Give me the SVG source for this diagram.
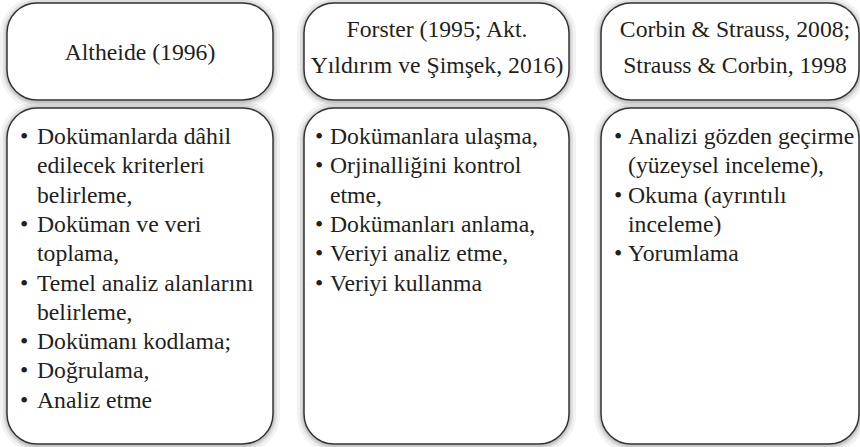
<svg xmlns="http://www.w3.org/2000/svg" width="860" height="447" viewBox="0 0 860 447">
<rect width="860" height="447" fill="#fff"/>
<g id="shadows" fill="none" stroke="#000">
<g stroke-opacity="0.05" stroke-width="14">
<rect x="7" y="4" width="266" height="97" rx="30"/><rect x="304" y="4" width="265" height="97" rx="30"/><rect x="601" y="4" width="258" height="97" rx="30"/>
<rect x="7" y="109" width="266" height="336" rx="30"/><rect x="304" y="109" width="265" height="336" rx="30"/><rect x="601" y="109" width="258" height="336" rx="30"/>
</g>
<g stroke-opacity="0.08" stroke-width="8">
<rect x="7" y="4" width="266" height="97" rx="30"/><rect x="304" y="4" width="265" height="97" rx="30"/><rect x="601" y="4" width="258" height="97" rx="30"/>
<rect x="7" y="109" width="266" height="336" rx="30"/><rect x="304" y="109" width="265" height="336" rx="30"/><rect x="601" y="109" width="258" height="336" rx="30"/>
</g>
<g stroke-opacity="0.1" stroke-width="4">
<rect x="7" y="4" width="266" height="97" rx="30"/><rect x="304" y="4" width="265" height="97" rx="30"/><rect x="601" y="4" width="258" height="97" rx="30"/>
<rect x="7" y="109" width="266" height="336" rx="30"/><rect x="304" y="109" width="265" height="336" rx="30"/><rect x="601" y="109" width="258" height="336" rx="30"/>
</g>
</g>
<g id="header1">
<rect x="7" y="3" width="266" height="97" rx="30" fill="#fff" stroke="#333" stroke-width="1.5"/>
<text font-family="'Times New Roman', 'Liberation Serif', serif" font-size="23.7" fill="#231f20" text-anchor="middle" x="140" y="60">Altheide (1996)</text>
</g>
<g id="header2">
<rect x="304" y="3" width="265" height="97" rx="30" fill="#fff" stroke="#333" stroke-width="1.5"/>
<text font-family="'Times New Roman', 'Liberation Serif', serif" font-size="23.7" fill="#231f20" text-anchor="middle" x="437" y="37">Forster (1995; Akt.</text>
<text font-family="'Times New Roman', 'Liberation Serif', serif" font-size="23.7" fill="#231f20" text-anchor="middle" x="437" y="73">Yıldırım ve Şimşek, 2016)</text>
</g>
<g id="header3">
<rect x="601" y="3" width="258" height="97" rx="30" fill="#fff" stroke="#333" stroke-width="1.5"/>
<text font-family="'Times New Roman', 'Liberation Serif', serif" font-size="23.7" fill="#231f20" text-anchor="middle" x="735" y="37">Corbin &amp; Strauss, 2008;</text>
<text font-family="'Times New Roman', 'Liberation Serif', serif" font-size="23.7" fill="#231f20" text-anchor="middle" x="735" y="73">Strauss &amp; Corbin, 1998</text>
</g>
<g id="content1">
<rect x="7" y="108" width="266" height="336" rx="30" fill="#fff" stroke="#333" stroke-width="1.5"/>
<text font-family="'Times New Roman', 'Liberation Serif', serif" font-size="23.7" fill="#231f20" x="20" y="144">•</text><text font-family="'Times New Roman', 'Liberation Serif', serif" font-size="23.7" fill="#231f20" x="37" y="144">Dokümanlarda dâhil</text>
<text font-family="'Times New Roman', 'Liberation Serif', serif" font-size="23.7" fill="#231f20" x="37" y="173.3">edilecek kriterleri</text>
<text font-family="'Times New Roman', 'Liberation Serif', serif" font-size="23.7" fill="#231f20" x="37" y="202.6">belirleme,</text>
<text font-family="'Times New Roman', 'Liberation Serif', serif" font-size="23.7" fill="#231f20" x="20" y="232">•</text><text font-family="'Times New Roman', 'Liberation Serif', serif" font-size="23.7" fill="#231f20" x="37" y="232">Doküman ve veri</text>
<text font-family="'Times New Roman', 'Liberation Serif', serif" font-size="23.7" fill="#231f20" x="37" y="261.2">toplama,</text>
<text font-family="'Times New Roman', 'Liberation Serif', serif" font-size="23.7" fill="#231f20" x="20" y="290.5">•</text><text font-family="'Times New Roman', 'Liberation Serif', serif" font-size="23.7" fill="#231f20" x="37" y="290.5">Temel analiz alanlarını</text>
<text font-family="'Times New Roman', 'Liberation Serif', serif" font-size="23.7" fill="#231f20" x="37" y="319.8">belirleme,</text>
<text font-family="'Times New Roman', 'Liberation Serif', serif" font-size="23.7" fill="#231f20" x="20" y="349.1">•</text><text font-family="'Times New Roman', 'Liberation Serif', serif" font-size="23.7" fill="#231f20" x="37" y="349.1">Dokümanı kodlama;</text>
<text font-family="'Times New Roman', 'Liberation Serif', serif" font-size="23.7" fill="#231f20" x="20" y="378.4">•</text><text font-family="'Times New Roman', 'Liberation Serif', serif" font-size="23.7" fill="#231f20" x="37" y="378.4">Doğrulama,</text>
<text font-family="'Times New Roman', 'Liberation Serif', serif" font-size="23.7" fill="#231f20" x="20" y="407.7">•</text><text font-family="'Times New Roman', 'Liberation Serif', serif" font-size="23.7" fill="#231f20" x="37" y="407.7">Analiz etme</text>
</g>
<g id="content2">
<rect x="304" y="108" width="265" height="336" rx="30" fill="#fff" stroke="#333" stroke-width="1.5"/>
<text font-family="'Times New Roman', 'Liberation Serif', serif" font-size="23.7" fill="#231f20" x="315" y="144">•</text><text font-family="'Times New Roman', 'Liberation Serif', serif" font-size="23.7" fill="#231f20" x="330" y="144">Dokümanlara ulaşma,</text>
<text font-family="'Times New Roman', 'Liberation Serif', serif" font-size="23.7" fill="#231f20" x="315" y="173.3">•</text><text font-family="'Times New Roman', 'Liberation Serif', serif" font-size="23.7" fill="#231f20" x="330" y="173.3">Orjinalliğini kontrol</text>
<text font-family="'Times New Roman', 'Liberation Serif', serif" font-size="23.7" fill="#231f20" x="330" y="202.6">etme,</text>
<text font-family="'Times New Roman', 'Liberation Serif', serif" font-size="23.7" fill="#231f20" x="315" y="232">•</text><text font-family="'Times New Roman', 'Liberation Serif', serif" font-size="23.7" fill="#231f20" x="330" y="232">Dokümanları anlama,</text>
<text font-family="'Times New Roman', 'Liberation Serif', serif" font-size="23.7" fill="#231f20" x="315" y="261.2">•</text><text font-family="'Times New Roman', 'Liberation Serif', serif" font-size="23.7" fill="#231f20" x="330" y="261.2">Veriyi analiz etme,</text>
<text font-family="'Times New Roman', 'Liberation Serif', serif" font-size="23.7" fill="#231f20" x="315" y="290.5">•</text><text font-family="'Times New Roman', 'Liberation Serif', serif" font-size="23.7" fill="#231f20" x="330" y="290.5">Veriyi kullanma</text>
</g>
<g id="content3">
<rect x="601" y="108" width="258" height="336" rx="30" fill="#fff" stroke="#333" stroke-width="1.5"/>
<text font-family="'Times New Roman', 'Liberation Serif', serif" font-size="23.7" fill="#231f20" x="614" y="144">•</text><text font-family="'Times New Roman', 'Liberation Serif', serif" font-size="23.7" fill="#231f20" x="628" y="144">Analizi gözden geçirme</text>
<text font-family="'Times New Roman', 'Liberation Serif', serif" font-size="23.7" fill="#231f20" x="628" y="173.3">(yüzeysel inceleme),</text>
<text font-family="'Times New Roman', 'Liberation Serif', serif" font-size="23.7" fill="#231f20" x="614" y="202.6">•</text><text font-family="'Times New Roman', 'Liberation Serif', serif" font-size="23.7" fill="#231f20" x="628" y="202.6">Okuma (ayrıntılı</text>
<text font-family="'Times New Roman', 'Liberation Serif', serif" font-size="23.7" fill="#231f20" x="628" y="232">inceleme)</text>
<text font-family="'Times New Roman', 'Liberation Serif', serif" font-size="23.7" fill="#231f20" x="614" y="261.2">•</text><text font-family="'Times New Roman', 'Liberation Serif', serif" font-size="23.7" fill="#231f20" x="628" y="261.2">Yorumlama</text>
</g>
<g id="connectors"/>
</svg>
